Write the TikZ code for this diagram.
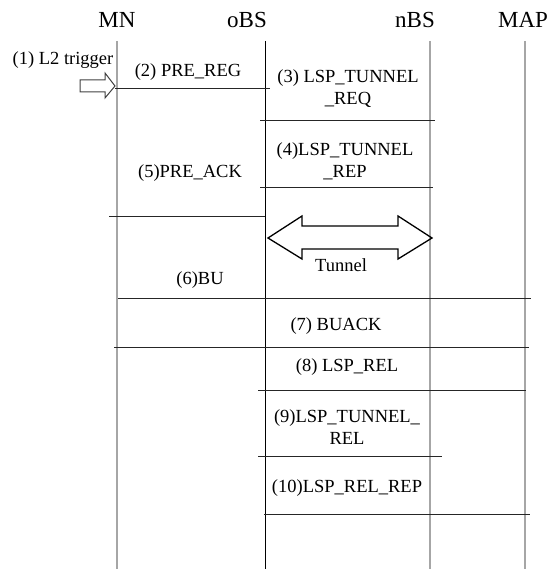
\documentclass[tikz,border=0pt]{standalone}
\usepackage{fontspec}
\setmainfont{Liberation Serif}
\begin{document}
\begin{tikzpicture}[x=1pt,y=-1pt,
  hdr/.style={font=\fontsize{23}{26}\selectfont, inner sep=0},
  msg/.style={font=\fontsize{18.5}{22.5}\selectfont, inner sep=0, align=center},
  life/.style={line width=1.6pt, draw=black!35},
  lifeb/.style={line width=1pt, draw=black},
  msgline/.style={line width=1pt, draw=black!85},
  bigarrow/.style={line width=1.3pt, draw=black, line join=miter}]
\useasboundingbox (0,0) rectangle (558,569);
% headers
\node[hdr] (MN) at (117,20) {MN};
\node[hdr] (oBS) at (247,20) {oBS};
\node[hdr] (nBS) at (415,20) {nBS};
\node[hdr] (MAP) at (523,20) {MAP};
% lifelines
\coordinate (mnT) at (117,41); \coordinate (mnB) at (117,569);
\coordinate (obT) at (265,41); \coordinate (obB) at (265,569);
\coordinate (nbT) at (430,41); \coordinate (nbB) at (430,569);
\coordinate (mpT) at (525,41); \coordinate (mpB) at (525,569);
\draw[life] (mnT) -- (mnB);
\draw[lifeb] (obT) -- (obB);
\draw[life] (nbT) -- (nbB);
\draw[life] (mpT) -- (mpB);
% message end points
\coordinate (a2) at (115,89);  \coordinate (b2) at (270,89);
\coordinate (a3) at (260,121); \coordinate (b3) at (435,121);
\coordinate (a4) at (260,188); \coordinate (b4) at (433,188);
\coordinate (a5) at (109,216); \coordinate (b5) at (265,216);
\coordinate (a6) at (118,298); \coordinate (b6) at (531,298);
\coordinate (a7) at (114,347); \coordinate (b7) at (529,347);
\coordinate (a8) at (258,390); \coordinate (b8) at (526,390);
\coordinate (a9) at (258,456); \coordinate (b9) at (442,456);
\coordinate (a10) at (264,514); \coordinate (b10) at (530,514);
\foreach \i in {2,...,10} { \draw[msgline] (a\i) -- (b\i); }
% labels
\node[msg] (t1) at (63,60) {(1) L2 trigger};
\node[msg] (t2) at (188,72) {(2) PRE\_REG};
\node[msg] (t3) at (348,88.5) {(3) LSP\_TUNNEL\\\_REQ};
\node[msg] (t4) at (345,161.5) {(4)LSP\_TUNNEL\\\_REP};
\node[msg] (t5) at (190,173) {(5)PRE\_ACK};
\node[msg] (tt) at (341,265) {Tunnel};
\node[msg] (t6) at (200,280) {(6)BU};
\node[msg] (t7) at (336,326) {(7) BUACK};
\node[msg] (t8) at (347,367) {(8) LSP\_REL};
\node[msg] (t9) at (347,427) {(9)LSP\_TUNNEL\_\\REL};
\node[msg] (t10) at (347,488) {(10)LSP\_REL\_REP};
% hollow trigger arrow
\draw[line width=1pt, draw=black!75, line join=miter]
  (80,80) -- (105,80) -- (105,73) -- (115,86) -- (105,98) -- (105,92) -- (80,92) -- cycle;
% tunnel double arrow
\draw[bigarrow] (268,238) -- (302,216) -- (302,226) -- (398,226) -- (398,216) -- (432,238)
  -- (398,259) -- (398,249) -- (302,249) -- (302,259) -- cycle;
\end{tikzpicture}
\end{document}
